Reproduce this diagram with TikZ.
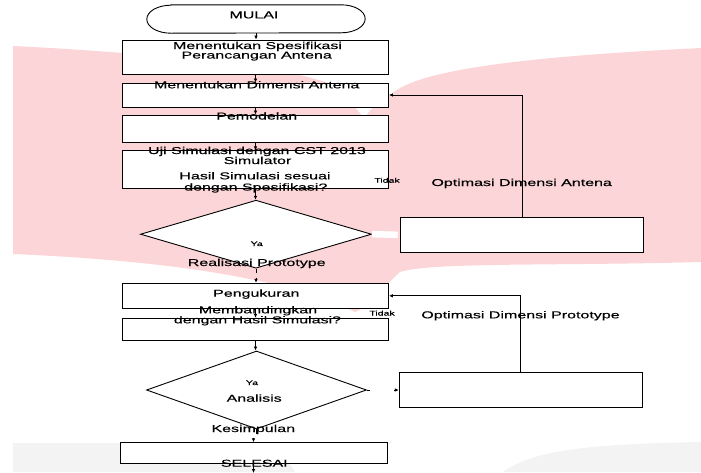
\documentclass[tikz,border=0pt]{standalone}
\usepackage{fontspec}
\setmainfont{Liberation Sans}[FakeStretch=1.6,FakeBold=0.35]
\usetikzlibrary{arrows.meta,shapes.geometric}
\definecolor{wmpink}{RGB}{252,213,216}
\definecolor{wmgray}{RGB}{243,243,243}
\tikzset{
 fbox/.style={draw, fill=white, line width=0.9pt, inner sep=0pt, minimum width=266pt},
 fdia/.style={draw, fill=white, diamond, line width=0.9pt, inner sep=0pt},
 termbox/.style={inner sep=0pt},
 txt/.style={anchor=base, inner sep=0pt, font=\fontsize{10}{9.5}\selectfont},
 small/.style={anchor=base, inner sep=0pt, font=\fontsize{6.6}{7}\selectfont},
 arr/.style={-{Latex[length=4pt,width=3.6pt]}, line width=0.9pt},
 ln/.style={line width=0.9pt},
}
\begin{document}
\begin{tikzpicture}[x=1pt,y=-1pt]
\useasboundingbox (0,0) rectangle (701,472);
\clip (0,0) rectangle (701,472);
% watermark background
\fill[wmpink] (13,46) .. controls (100,50) and (250,62) .. (300,75) .. controls (340,85) and (370,98) .. (386,100) .. controls (400,80) and (450,60) .. (701,48) -- (701,262) .. controls (560,266) and (430,262) .. (400,272) .. controls (385,285) and (372,305) .. (355,312) .. controls (300,285) and (200,262) .. (13,254) -- cycle;
\fill[white] (356,108) -- (372,108) -- (364,118) -- cycle;
\fill[wmgray] (13,443) -- (260,443) .. controls (280,452) and (290,463) .. (295,472) -- (13,472) -- cycle;
\fill[wmgray] (503,472) .. controls (530,452) and (580,444) .. (701,442) -- (701,472) -- cycle;

% terminal (horizontally stretched stadium)
\node[termbox, minimum width=218pt, minimum height=28pt] (t) at (256,19) {};
\draw[fill=white, line width=0.9pt] ([xshift=24pt]t.north west) -- ([xshift=-24pt]t.north east)
  arc[start angle=90, end angle=-90, x radius=24pt, y radius=14pt]
  -- ([xshift=24pt]t.south west)
  arc[start angle=270, end angle=90, x radius=24pt, y radius=14pt] -- cycle;

% shapes
\node[fbox, minimum height=34pt] (b1) at (255.5,57) {};
\node[fbox, minimum height=24pt] (b2) at (255.5,95) {};
\node[fbox, minimum height=27pt] (b3) at (255.5,128.5) {};
\node[fbox, minimum height=37.5pt] (b4) at (255.5,169.5) {};
\node[fdia, minimum width=231pt, minimum height=68pt] (d1) at (256,234.2) {};
\node[fbox, minimum width=242.6pt, minimum height=35pt] (ob1) at (522,234.8) {};
\node[fbox, minimum height=25pt] (b5) at (255.5,295.8) {};
\node[fbox, minimum height=22.5pt] (b6) at (255.5,329.5) {};
\node[fdia, minimum width=220pt, minimum height=78pt] (d2) at (256.5,390) {};
\node[fbox, minimum width=243pt, minimum height=34.6pt] (ob2) at (520.8,390) {};
\node[fbox, minimum width=267pt, minimum height=20.6pt] (b7) at (253.5,453) {};

% connectors
\draw[arr] (t.south) -- (t.south |- b1.north);
\draw[arr] (b1.south) -- (b2.north);
\draw[arr] (b2.south) -- (b3.north);
\draw[arr] (b3.south) -- (b4.north);
\draw[arr] (b4.south) -- (b4.south |- d1.north);
\draw[arr] (ob1.north) |- (b2.east);
\draw[white, line width=6.5pt] (d1.east) -- ([xshift=-2.5pt]ob1.west);
\draw[ln] (d1.south) -- ++(0,4);
\coordinate (r1) at (256,277.5);
\draw[arr] (r1) -- (r1 |- b5.north);
\draw[arr] (b5.south) -- (b6.north);
\draw[arr] (b6.south) -- (b6.south |- d2.north);
\draw[arr] (ob2.north) |- (b5.east);
\draw[ln] (d2.east) -- ++(3,0);
\coordinate (o2) at (394,390);
\draw[arr] (o2) -- (ob2.west);
\draw[ln] (d2.south) -- ++(0,5);
\coordinate (k1) at (253.5,437.5);
\draw[arr] (k1) -- (k1 |- b7.north);
\coordinate (e1) at (253.5,473);
\draw[arr] (b7.south) -- (e1);

% texts
\node[txt] (x0) at (254,18.3) {MULAI};
\node[txt] (x1a) at (257.5,49) {Menentukan Spesifikasi};
\node[txt] (x1b) at (256.7,58.5) {Perancangan Antena};
\node[txt] (x2) at (256.7,88.3) {Menentukan Dimensi Antena};
\node[txt] (x3) at (256.7,119.5) {Pemodelan};
\node[txt] (x4a) at (257,154) {Uji Simulasi dengan CST 2013};
\node[txt] (x4b) at (257.5,164) {Simulator};
\node[txt] (x5a) at (255,179.3) {Hasil Simulasi sesuai};
\node[txt] (x5b) at (255.8,190.5) {dengan Spesifikasi?};
\node[small] (ya1) at (256.7,246) {Ya};
\node[small] (td1) at (387,182.7) {Tidak};
\node[txt] (op1) at (521.7,186) {Optimasi Dimensi Antena};
\node[txt] (x6) at (256.7,266) {Realisasi Prototype};
\node[txt] (x7) at (256.3,296.7) {Pengukuran};
\node[txt] (x8a) at (258,313.3) {Membandingkan};
\node[txt] (x8b) at (257.5,323.3) {dengan Hasil Simulasi?};
\node[small] (td2) at (382,315.5) {Tidak};
\node[txt] (op2) at (520.5,318.3) {Optimasi Dimensi Prototype};
\node[small] (ya2) at (252,385) {Ya};
\node[txt] (x9) at (254.2,401.7) {Analisis};
\node[txt] (x10) at (253.3,432) {Kesimpulan};
\node[txt] (x11) at (254.3,466.7) {SELESAI};
\end{tikzpicture}
\end{document}
